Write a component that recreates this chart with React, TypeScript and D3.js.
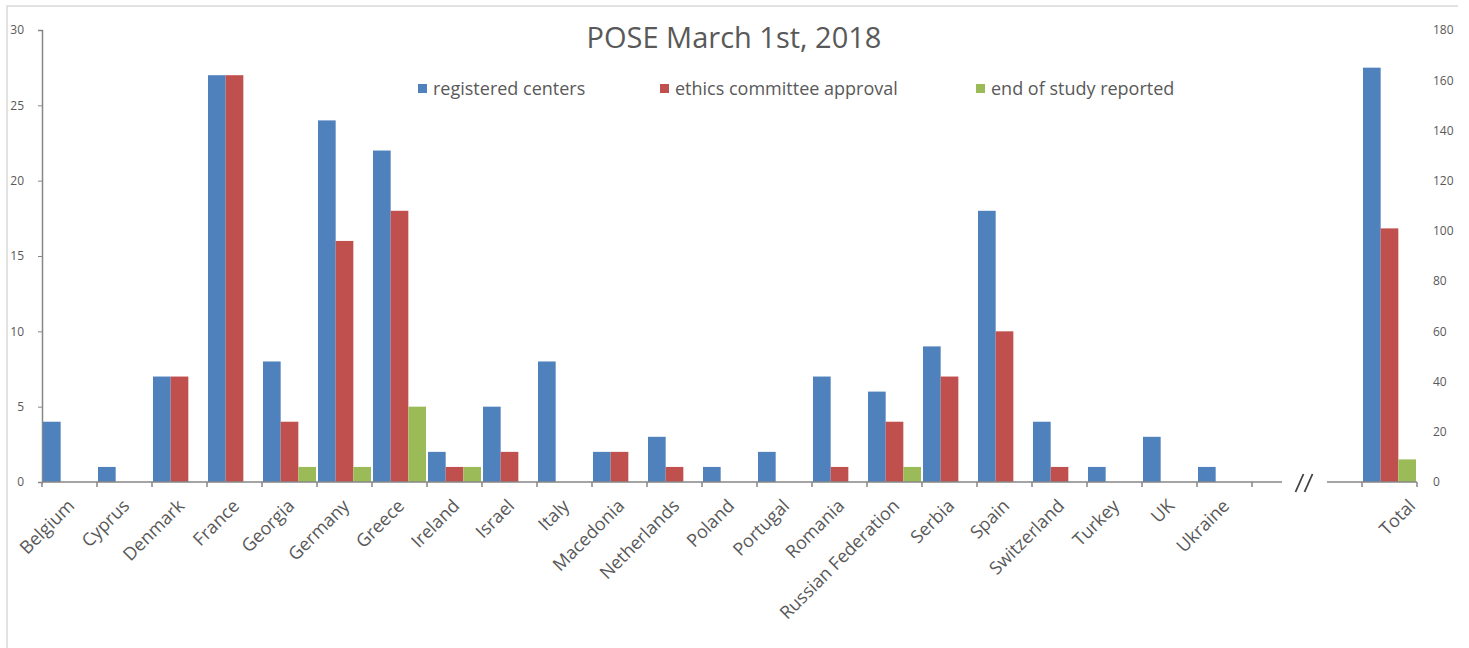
import { useEffect, useRef } from 'react';
import * as d3 from 'd3';

const countries = [
  'Belgium', 'Cyprus', 'Denmark', 'France', 'Georgia', 'Germany', 'Greece',
  'Ireland', 'Israel', 'Italy', 'Macedonia', 'Netherlands', 'Poland', 'Portugal',
  'Romania', 'Russian Federation', 'Serbia', 'Spain', 'Switzerland', 'Turkey',
  'UK', 'Ukraine',
];
const registered = [4, 1, 7, 27, 8, 24, 22, 2, 5, 8, 2, 3, 1, 2, 7, 6, 9, 18, 4, 1, 3, 1];
const ethics = [0, 0, 7, 27, 4, 16, 18, 1, 2, 0, 2, 1, 0, 0, 1, 4, 7, 10, 1, 0, 0, 0];
const endOfStudy = [0, 0, 0, 0, 1, 1, 5, 1, 0, 0, 0, 0, 0, 0, 0, 1, 0, 0, 0, 0, 0, 0];
const totals = [165, 101, 9];
const seriesNames = ['registered centers', 'ethics committee approval', 'end of study reported'];
const colors = ['#4F81BD', '#C0504D', '#9BBB59'];
const leftTicks = [0, 5, 10, 15, 20, 25, 30];
const rightTicks = [0, 20, 40, 60, 80, 100, 120, 140, 160, 180];
const gapSlots = ['gap1', 'gap2'];

const W = 1469;
const H = 648;
const FONT = '"Open Sans", "Liberation Sans", sans-serif';
const GREY = '#595959';

export default function App() {
  const svgRef = useRef<SVGSVGElement>(null);

  useEffect(() => {
    if (!svgRef.current) return;
    const svg = d3.select(svgRef.current);
    svg.selectAll('*').remove();

    const plotTop = 30;
    const plotBottom = 482;
    const left = 42;
    const right = 1417;

    const x = d3.scaleBand<string>()
      .domain([...countries, ...gapSlots, 'Total'])
      .range([left, right])
      .padding(0);
    const x1 = d3.scaleBand<string>()
      .domain(seriesNames)
      .range([1, x.bandwidth() - 1])
      .padding(0);
    const y = d3.scaleLinear().domain([0, 30]).range([plotBottom, plotTop]);
    const yR = d3.scaleLinear().domain([0, 180]).range([plotBottom, plotTop]);

    // frame
    svg.append('path')
      .attr('d', `M7,${H} V6 H1458`)
      .attr('fill', 'none')
      .attr('stroke', '#d9d9d9')
      .attr('stroke-width', 1.5);

    // title
    svg.append('text')
      .attr('x', 734)
      .attr('y', 48)
      .attr('text-anchor', 'middle')
      .attr('font-family', FONT)
      .attr('font-size', 29)
      .attr('fill', GREY)
      .text('POSE March 1st, 2018');

    // legend
    const legendX = [418, 660, 976];
    const lg = svg.append('g').attr('font-family', FONT).attr('font-size', 18).attr('fill', GREY);
    seriesNames.forEach((name, i) => {
      lg.append('rect')
        .attr('x', legendX[i]).attr('y', 84).attr('width', 9).attr('height', 9)
        .attr('fill', colors[i]);
      lg.append('text')
        .attr('x', legendX[i] + 15).attr('y', 95)
        .text(name);
    });

    // left axis
    const gl = svg.append('g')
      .attr('transform', `translate(${left},0)`)
      .call(d3.axisLeft(y).tickValues(leftTicks).tickSize(4).tickPadding(14).tickFormat(d3.format('d')));
    gl.select('.domain').attr('stroke', '#868686').attr('stroke-width', 1.5);
    gl.selectAll('.tick line').attr('stroke', '#868686');
    gl.selectAll('.tick text').attr('fill', GREY).attr('font-family', FONT).attr('font-size', 12);

    // right axis
    const gr = svg.append('g')
      .attr('transform', `translate(${right},0)`)
      .call(d3.axisRight(yR).tickValues(rightTicks).tickSize(0).tickPadding(16).tickFormat(d3.format('d')));
    gr.select('.domain').remove();
    gr.selectAll('.tick text').attr('fill', GREY).attr('font-family', FONT).attr('font-size', 12);

    // bars for countries
    const rows = countries.map((c, i) => ({ c, vals: [registered[i], ethics[i], endOfStudy[i]] }));
    const groups = svg.append('g')
      .selectAll('g')
      .data(rows)
      .join('g')
      .attr('transform', d => `translate(${x(d.c)},0)`);
    groups.selectAll('rect')
      .data(d => d.vals.map((v, k) => ({ v, k })))
      .join('rect')
      .attr('x', d => x1(seriesNames[d.k])!)
      .attr('width', x1.bandwidth())
      .attr('y', d => y(d.v))
      .attr('height', d => plotBottom - y(d.v))
      .attr('fill', d => colors[d.k]);

    // total bars on right axis
    svg.append('g')
      .attr('transform', `translate(${x('Total')},0)`)
      .selectAll('rect')
      .data(totals)
      .join('rect')
      .attr('x', (_, k) => x1(seriesNames[k])!)
      .attr('width', x1.bandwidth())
      .attr('y', d => yR(d))
      .attr('height', d => plotBottom - yR(d))
      .attr('fill', (_, k) => colors[k]);

    // x axis with break
    const ax = svg.append('g').attr('stroke', '#868686').attr('stroke-width', 1.5);
    const lastCountryEnd = x(countries[countries.length - 1])! + x.bandwidth();
    const totalStart = x('Total')!;
    const breakL = lastCountryEnd + 30;
    const breakR = totalStart - 35;
    ax.append('line').attr('x1', left).attr('x2', breakL).attr('y1', plotBottom).attr('y2', plotBottom);
    ax.append('line').attr('x1', breakR).attr('x2', right).attr('y1', plotBottom).attr('y2', plotBottom);
    const tickXs = [...countries.map(c => x(c)!), lastCountryEnd, totalStart, right];
    ax.selectAll('line.tk')
      .data(tickXs)
      .join('line')
      .attr('class', 'tk')
      .attr('x1', d => d).attr('x2', d => d)
      .attr('y1', plotBottom).attr('y2', plotBottom + 5);
    const bx = (breakL + breakR) / 2;
    svg.append('g')
      .attr('stroke', '#404040')
      .attr('stroke-width', 1.8)
      .selectAll('line')
      .data([-5, 4])
      .join('line')
      .attr('x1', d => bx + d - 4).attr('y1', plotBottom + 10)
      .attr('x2', d => bx + d + 4).attr('y2', plotBottom - 8);

    // category labels
    const labels = [...countries, 'Total'];
    svg.append('g')
      .selectAll('text')
      .data(labels)
      .join('text')
      .attr('transform', d => {
        const cx = x(d)! + x.bandwidth() / 2 + (d === 'Total' ? 27 : 6);
        return `translate(${cx},${plotBottom + 25}) rotate(-45)`;
      })
      .attr('text-anchor', 'end')
      .attr('font-family', FONT)
      .attr('font-size', 18)
      .attr('fill', GREY)
      .text(d => d);
  }, []);

  return (
    <svg
      ref={svgRef}
      width={W}
      height={H}
      style={{ position: 'absolute', left: 0, top: 0, background: '#fff', display: 'block' }}
    />
  );
}
